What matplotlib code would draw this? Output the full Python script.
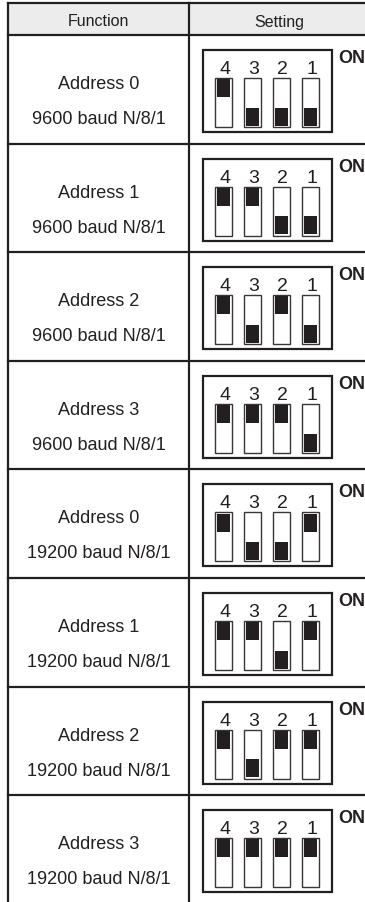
import matplotlib.pyplot as plt
from matplotlib.patches import Rectangle

# table content
functions = ["Address 0", "Address 1", "Address 2", "Address 3",
             "Address 0", "Address 1", "Address 2", "Address 3"]
bauds = ["9600 baud N/8/1"] * 4 + ["19200 baud N/8/1"] * 4
switch_labels = ["4", "3", "2", "1"]
# 1 = ON (knob up), order of switches 4, 3, 2, 1
states = [
    [1, 0, 0, 0],
    [1, 1, 0, 0],
    [1, 0, 1, 0],
    [1, 1, 1, 0],
    [1, 0, 0, 1],
    [1, 1, 0, 1],
    [1, 0, 1, 1],
    [1, 1, 1, 1],
]

ink = "#231f20"
font = ["Liberation Sans", "DejaVu Sans"]

W, H = 365, 902
fig = plt.figure(figsize=(W / 100, H / 100), dpi=100)
ax = fig.add_axes([0, 0, 1, 1])
ax.set_xlim(0, W)
ax.set_ylim(H, 0)
ax.axis("off")

left, mid = 8, 189
top, head_bot = 3, 35
row_h = 108.6

# header
ax.add_patch(Rectangle((left, top), W - left, head_bot - top, facecolor="#ececec", edgecolor="none"))
ax.text((left + mid) / 2, 26.5, "Function", ha="center", va="baseline",
        fontsize=11.5, family=font, color=ink)
ax.text((mid + W) / 2 + 2, 26.5, "Setting", ha="center", va="baseline",
        fontsize=11.5, family=font, color=ink)

# grid lines
ax.plot([left, W], [top, top], color=ink, lw=1.6)
ax.plot([left, W], [head_bot, head_bot], color=ink, lw=1.6)
ax.plot([left, left], [top, H], color=ink, lw=1.6)
ax.plot([mid, mid], [top, H], color=ink, lw=1.6)

box_x0, box_x1 = 203, 332
slot_centers = [223.5, 252.5, 281.5, 310.5]
slot_w = 16.5

for i in range(len(functions)):
    y0 = head_bot + i * row_h
    if i > 0:
        ax.plot([left, W], [y0, y0], color=ink, lw=1.6)
    ax.text((left + mid) / 2, y0 + 54, functions[i], ha="center", va="baseline",
            fontsize=13, family=font, color=ink)
    ax.text((left + mid) / 2, y0 + 89, bauds[i], ha="center", va="baseline",
            fontsize=13, family=font, color=ink)

    by0, by1 = y0 + 15, y0 + 97
    ax.add_patch(Rectangle((box_x0, by0), box_x1 - box_x0, by1 - by0,
                           facecolor="white", edgecolor=ink, lw=1.6))
    ax.text(338, by0 + 13, "ON", ha="left", va="baseline", fontsize=13,
            family=font, weight="bold", color=ink)

    sy0, sy1 = by0 + 28, by0 + 77
    for cx, lab, st in zip(slot_centers, switch_labels, states[i]):
        ax.text(cx + 1, by0 + 24, lab, ha="center", va="baseline", fontsize=14,
                family=font, color=ink)
        ax.add_patch(Rectangle((cx - slot_w / 2, sy0), slot_w, sy1 - sy0,
                               facecolor="white", edgecolor="#3a3536", lw=1.0))
        kh = 18
        ky = sy0 + 1.2 if st else sy1 - 1.2 - kh
        ax.add_patch(Rectangle((cx - slot_w / 2 + 1.3, ky), slot_w - 2.6, kh,
                               facecolor=ink, edgecolor="none"))

fig.savefig("out.png", dpi=100)
